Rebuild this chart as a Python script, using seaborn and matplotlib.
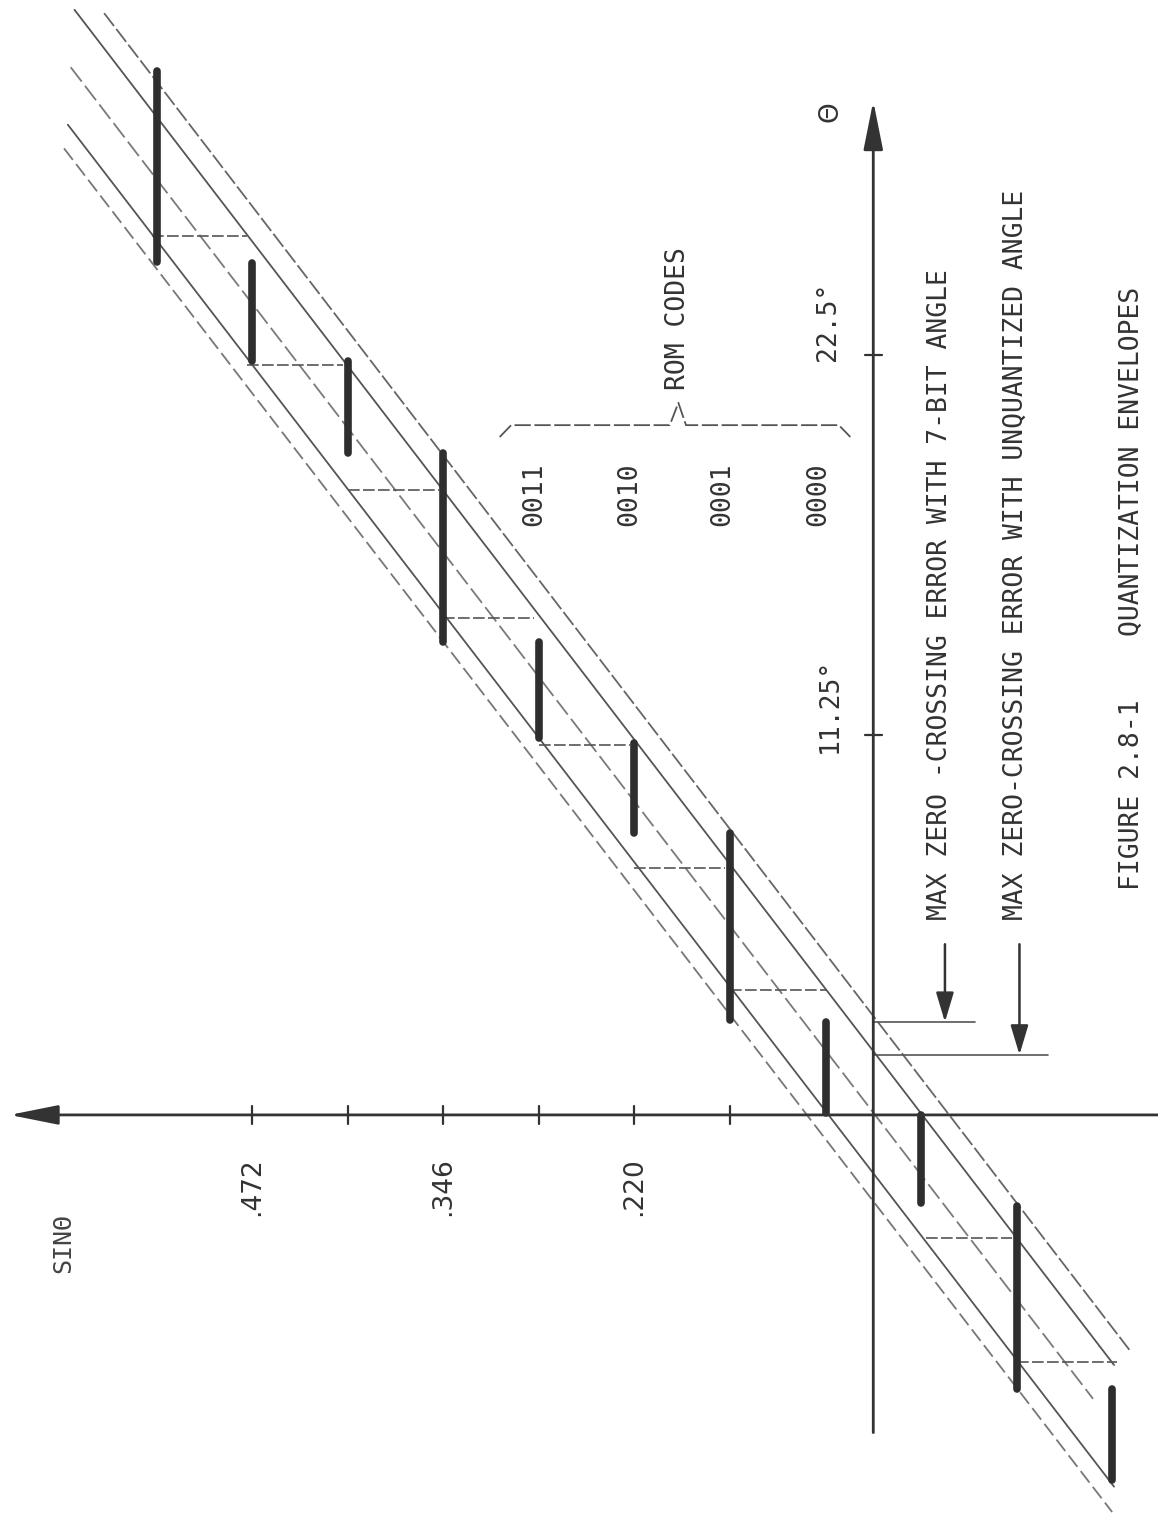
import pandas as pd
import seaborn as sns
import matplotlib.pyplot as plt

# Figure 2.8-1, drawn in the scanned (rotated) orientation:
# horizontal = sin value in ROM steps (increasing to the left), vertical = theta in degrees

# quantized staircase (bold segments): level in ROM steps, theta range
seg_level = [7.5, 6.5, 5.5, 4.5, 3.5, 2.5, 1.5, 0.5, -0.5, -1.5, -2.5]
seg_theta_top = [30.9, 25.2, 22.3, 19.6, 14.0, 11.0, 8.35, 2.75, 0.0, -2.7, -8.1]
seg_theta_bot = [25.25, 22.3, 19.6, 14.0, 11.15, 8.35, 2.8, 0.05, -2.6, -8.1, -10.8]

# thin transition lines between levels
riser_theta = [26.0, 22.2, 18.5, 14.7, 10.95, 7.3, 3.7, -3.65, -7.3]
riser_from = [7.55, 6.55, 5.5, 4.5, 3.5, 2.5, 1.5, -0.55, -1.5]
riser_to = [6.55, 5.55, 4.55, 3.55, 2.55, 1.55, 0.5, -1.45, -2.55]

# envelope lines (end points)
env_name = ["outer_lo", "inner_lo", "center", "inner_hi", "outer_hi"]
env_u_top = [8.05, 8.36, 8.40, 8.43, 8.47]
env_theta_top = [32.6, 32.7, 31.0, 29.3, 28.6]
env_u_bot = [-2.68, -2.52, -2.30, -2.52, -2.50]
env_theta_bot = [-6.95, -7.4, -8.4, -11.0, -11.75]

# axes ticks and labels
sin_ticks = [1.5, 2.5, 3.5, 4.5, 5.5, 6.5]
sin_tick_labels = ["", ".220", "", ".346", "", ".472"]
theta_ticks = [11.25, 22.5]
theta_tick_labels = ["11.25°", "22.5°"]
rom_levels = [3.55, 2.55, 1.58, 0.58]
rom_codes = ["0011", "0010", "0001", "0000"]

# zero-crossing error markers
zc_theta = [2.75, 1.78]
zc_u_end = [-1.06, -1.83]
zc_arrow_u = [-0.75, -1.53]
zc_text = ["MAX ZERO -CROSSING ERROR WITH 7-BIT ANGLE",
           "MAX ZERO-CROSSING ERROR WITH UNQUANTIZED ANGLE"]
zc_text_u = [-0.70, -1.49]

sns.set_theme(style="white")
plt.rcParams["font.family"] = ["DejaVu Sans Mono", "DejaVu Sans"]

fig = plt.figure(figsize=(11.58, 15.35), dpi=100)
ax = fig.add_axes([0, 0, 1, 1])
ax.set_xlim(9.14, -2.98)
ax.set_ylim(-12.43, 32.99)
ax.axis("off")

ink = "#333333"

# envelope lines
env_df = pd.concat(
    [pd.DataFrame({"u": [env_u_top[i], env_u_bot[i]],
                   "theta": [env_theta_top[i], env_theta_bot[i]],
                   "line": env_name[i]}) for i in range(len(env_name))],
    ignore_index=True,
)
sns.lineplot(
    data=env_df, x="u", y="theta", hue="line", style="line",
    palette={"outer_lo": "#666666", "inner_lo": "#555555", "center": "#7a7a7a",
             "inner_hi": "#555555", "outer_hi": "#777777"},
    dashes={"outer_lo": (9, 2), "inner_lo": "", "center": (10, 3),
            "inner_hi": "", "outer_hi": (8, 3)},
    estimator=None, sort=False, linewidth=1.3, legend=False, ax=ax,
)

# risers
for t, a, b in zip(riser_theta, riser_from, riser_to):
    ax.plot([a, b], [t, t], color="#555555", lw=1.2, ls=(0, (7, 2)))

# bold staircase
seg_df = pd.concat(
    [pd.DataFrame({"u": [seg_level[i], seg_level[i]],
                   "theta": [seg_theta_top[i], seg_theta_bot[i]],
                   "seg": i}) for i in range(len(seg_level))],
    ignore_index=True,
)
sns.lineplot(data=seg_df, x="u", y="theta", units="seg", estimator=None,
             sort=False, color="#2e2e2e", linewidth=5.5,
             solid_capstyle="round", ax=ax)

# axes with arrowheads
arrow = dict(arrowstyle="-|>,head_length=1.5,head_width=0.3", color=ink,
             lw=2.0, shrinkA=0, shrinkB=0, mutation_scale=20)
ax.annotate("", xy=(0, 30.0), xytext=(0, -9.4), arrowprops=arrow)
ax.annotate("", xy=(9.04, 0), xytext=(-2.98, 0), arrowprops=arrow)

for t in sin_ticks:
    ax.plot([t, t], [-0.27, 0.27], color=ink, lw=1.6)
for t in theta_ticks:
    ax.plot([0.09, -0.09], [t, t], color=ink, lw=1.6)

for t, lab in zip(sin_ticks, sin_tick_labels):
    if lab:
        ax.text(t, -1.24, lab, rotation=90, ha="center", va="top",
                fontsize=19, family="DejaVu Sans", color=ink)
ax.text(0.47, 22.3, theta_tick_labels[1], rotation=90, ha="center",
        va="bottom", fontsize=19, color=ink)
ax.text(0.45, 10.7, theta_tick_labels[0], rotation=90, ha="center",
        va="bottom", fontsize=19, color=ink)

ax.text(0.45, 29.7, "Θ", rotation=90, ha="center", va="center",
        fontsize=19, family="DejaVu Sans", color=ink)
ax.text(8.48, -3.8, "SINΘ", rotation=90, ha="center", va="center",
        fontsize=18, color="#444444")

# ROM codes and brace
for u, code in zip(rom_levels, rom_codes):
    ax.text(u, 19.3, code, rotation=90, ha="center", va="top",
            fontsize=19, color=ink)
brace_u = [3.91, 3.79, 2.13, 2.04, 1.96, 0.36, 0.24]
brace_theta = [20.06, 20.41, 20.41, 21.07, 20.41, 20.41, 20.06]
ax.plot(brace_u, brace_theta, color="#555555", lw=1.3, ls=(0, (9, 2)))
ax.text(2.04, 21.45, "ROM CODES", rotation=90, ha="center", va="bottom",
        fontsize=19, color=ink)

# zero-crossing error dimension lines
for t, ue, ua, txt, ut in zip(zc_theta, zc_u_end, zc_arrow_u, zc_text, zc_text_u):
    ax.plot([0, ue], [t, t], color="#555555", lw=1.2)
    ax.annotate("", xy=(ua, t), xytext=(ua, 5.05),
                arrowprops=dict(arrowstyle="-|>,head_length=1.0,head_width=0.3",
                                color=ink, lw=1.8, shrinkA=0, shrinkB=0,
                                mutation_scale=18))
    ax.text(ut, 5.77, txt, rotation=90, ha="center", va="bottom",
            fontsize=19, color=ink)

ax.text(-2.71, 6.66, "FIGURE 2.8-1    QUANTIZATION ENVELOPES", rotation=90,
        ha="center", va="bottom", fontsize=19, color=ink)

fig.savefig("out.png", dpi=100)
